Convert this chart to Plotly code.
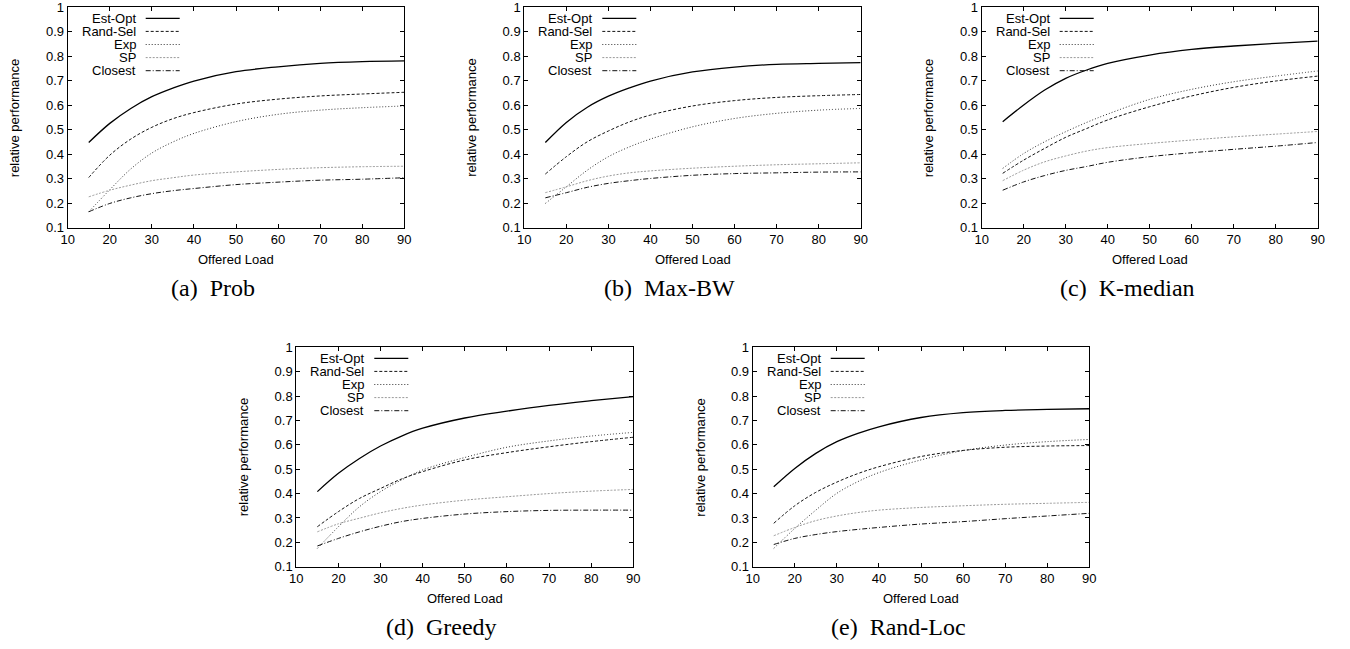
import plotly.graph_objects as go

W, H = 1350, 649

offered_load = [15, 20, 25, 30, 35, 40, 50, 60, 70, 80, 90]
series_names = ["Est-Opt", "Rand-Sel", "Exp", "SP", "Closest"]

# (a) Prob
prob_est_opt = [0.448, 0.526, 0.587, 0.635, 0.670, 0.699, 0.737, 0.757, 0.771, 0.778, 0.781]
prob_rand_sel = [0.305, 0.396, 0.462, 0.510, 0.545, 0.570, 0.605, 0.625, 0.638, 0.646, 0.653]
prob_exp = [0.165, 0.255, 0.340, 0.405, 0.450, 0.485, 0.533, 0.563, 0.580, 0.590, 0.597]
prob_sp = [0.226, 0.253, 0.274, 0.292, 0.304, 0.315, 0.328, 0.338, 0.345, 0.349, 0.351]
prob_closest = [0.165, 0.199, 0.222, 0.239, 0.251, 0.260, 0.276, 0.286, 0.294, 0.298, 0.304]

# (b) Max-BW
maxbw_est_opt = [0.448, 0.530, 0.592, 0.637, 0.671, 0.699, 0.736, 0.756, 0.767, 0.771, 0.774]
maxbw_rand_sel = [0.319, 0.390, 0.451, 0.495, 0.532, 0.560, 0.597, 0.619, 0.632, 0.639, 0.644]
maxbw_exp = [0.199, 0.267, 0.335, 0.390, 0.430, 0.462, 0.512, 0.546, 0.567, 0.580, 0.587]
maxbw_sp = [0.243, 0.267, 0.292, 0.311, 0.324, 0.332, 0.343, 0.351, 0.357, 0.361, 0.365]
maxbw_closest = [0.222, 0.243, 0.265, 0.281, 0.292, 0.301, 0.314, 0.321, 0.324, 0.327, 0.328]

# (c) K-median
kmed_est_opt = [0.533, 0.601, 0.662, 0.710, 0.744, 0.771, 0.805, 0.828, 0.842, 0.853, 0.862]
kmed_rand_sel = [0.322, 0.376, 0.424, 0.469, 0.505, 0.540, 0.594, 0.638, 0.673, 0.699, 0.719]
kmed_exp = [0.342, 0.403, 0.451, 0.492, 0.530, 0.564, 0.624, 0.665, 0.696, 0.719, 0.740]
kmed_sp = [0.292, 0.335, 0.369, 0.393, 0.413, 0.427, 0.444, 0.458, 0.471, 0.482, 0.493]
kmed_closest = [0.253, 0.287, 0.313, 0.334, 0.350, 0.367, 0.390, 0.406, 0.420, 0.433, 0.448]

# (d) Greedy
greedy_est_opt = [0.408, 0.483, 0.544, 0.595, 0.636, 0.668, 0.710, 0.738, 0.762, 0.781, 0.798]
greedy_rand_sel = [0.264, 0.326, 0.380, 0.421, 0.460, 0.490, 0.538, 0.568, 0.592, 0.613, 0.631]
greedy_exp = [0.175, 0.264, 0.346, 0.408, 0.456, 0.497, 0.548, 0.590, 0.616, 0.636, 0.651]
greedy_sp = [0.243, 0.276, 0.299, 0.321, 0.339, 0.353, 0.373, 0.387, 0.400, 0.410, 0.417]
greedy_closest = [0.185, 0.216, 0.243, 0.266, 0.285, 0.298, 0.316, 0.326, 0.331, 0.332, 0.332]

# (e) Rand-Loc
randloc_est_opt = [0.428, 0.503, 0.565, 0.613, 0.647, 0.674, 0.712, 0.732, 0.741, 0.745, 0.748]
randloc_rand_sel = [0.278, 0.350, 0.405, 0.447, 0.482, 0.510, 0.552, 0.577, 0.590, 0.595, 0.597]
randloc_exp = [0.175, 0.257, 0.332, 0.401, 0.449, 0.486, 0.538, 0.576, 0.599, 0.613, 0.622]
randloc_sp = [0.227, 0.261, 0.289, 0.308, 0.322, 0.332, 0.343, 0.350, 0.356, 0.360, 0.364]
randloc_closest = [0.191, 0.216, 0.232, 0.244, 0.253, 0.261, 0.275, 0.285, 0.297, 0.308, 0.319]

x_ticks = [10, 20, 30, 40, 50, 60, 70, 80, 90]
y_ticks = [0.1, 0.2, 0.3, 0.4, 0.5, 0.6, 0.7, 0.8, 0.9, 1.0]
y_tick_labels = ["0.1", "0.2", "0.3", "0.4", "0.5", "0.6", "0.7", "0.8", "0.9", "1"]

panels = [
    ("(a)\u00a0 Prob", [prob_est_opt, prob_rand_sel, prob_exp, prob_sp, prob_closest]),
    ("(b)\u00a0 Max-BW", [maxbw_est_opt, maxbw_rand_sel, maxbw_exp, maxbw_sp, maxbw_closest]),
    ("(c)\u00a0 K-median", [kmed_est_opt, kmed_rand_sel, kmed_exp, kmed_sp, kmed_closest]),
    ("(d)\u00a0 Greedy", [greedy_est_opt, greedy_rand_sel, greedy_exp, greedy_sp, greedy_closest]),
    ("(e)\u00a0 Rand-Loc", [randloc_est_opt, randloc_rand_sel, randloc_exp, randloc_sp, randloc_closest]),
]

# plot-area boxes in pixels: left, right, top, bottom
boxes = [
    (67.7, 404.3, 7.3, 227.7),
    (524.3, 860.7, 7.3, 227.7),
    (981.7, 1317.7, 7.3, 227.7),
    (296.3, 633.3, 347.3, 566.7),
    (752.7, 1089.3, 347.3, 566.7),
]

styles = [
    dict(color="#000000", width=1.3, dash="solid"),
    dict(color="#111111", width=1.0, dash="3px,2px"),
    dict(color="#333333", width=1.0, dash="1px,2px"),
    dict(color="#999999", width=1.0, dash="2px,1.5px"),
    dict(color="#111111", width=1.0, dash="5px,2px,1px,2px"),
]

FONT = "Liberation Sans"
SERIF = "Liberation Serif"


def px(x):
    return x / W


def py(y):
    return 1 - y / H


fig = go.Figure()
annotations = []
shapes = []

for i, ((caption, values), (L, R, T, B)) in enumerate(zip(panels, boxes)):
    n = "" if i == 0 else str(i + 1)
    xa, ya = "x" + n, "y" + n
    for name, vals, st in zip(series_names, values, styles):
        fig.add_trace(go.Scatter(
            x=offered_load, y=vals, mode="lines", name=name, showlegend=False,
            line=dict(color=st["color"], width=st["width"], dash=st["dash"], shape="spline", smoothing=1.0),
            xaxis=xa, yaxis=ya,
        ))
    axis_common = dict(
        showline=True, linecolor="black", linewidth=1, mirror="allticks",
        ticks="inside", ticklen=4, tickwidth=1, tickcolor="black",
        showgrid=False, zeroline=False, ticklabeloverflow="allow",
        tickfont=dict(family=FONT, size=13, color="black"),
    )
    fig.update_layout(**{
        "xaxis" + n: dict(domain=[px(L), px(R)], range=[10, 90], tickvals=x_ticks,
                          anchor=ya, **axis_common),
        "yaxis" + n: dict(domain=[py(B), py(T)], range=[0.1, 1.0], tickvals=y_ticks,
                          ticktext=y_tick_labels, anchor=xa, **axis_common),
    })
    annotations.append(dict(
        text="Offered Load", x=px((L + R) / 2), y=py(B + 31.5), xref="paper", yref="paper",
        showarrow=False, xanchor="center", yanchor="middle",
        font=dict(family=FONT, size=13, color="black"),
    ))
    annotations.append(dict(
        text="relative performance", x=px(L - 53), y=py((T + B) / 2), xref="paper", yref="paper",
        showarrow=False, xanchor="center", yanchor="middle", textangle=-90,
        font=dict(family=FONT, size=13, color="black"),
    ))
    annotations.append(dict(
        text=caption, x=px(L + 145.5), y=py(B + 60), xref="paper", yref="paper",
        showarrow=False, xanchor="center", yanchor="middle",
        font=dict(family=SERIF, size=24, color="black"),
    ))
    for k, (name, st) in enumerate(zip(series_names, styles)):
        ry = T + 11 + 13.1 * k
        annotations.append(dict(
            text=name, x=px(L + 70), y=py(ry), xref="paper", yref="paper",
            showarrow=False, xanchor="right", yanchor="middle",
            font=dict(family=FONT, size=13, color="black"),
        ))
        shapes.append(dict(
            type="line", xref="paper", yref="paper",
            x0=px(L + 78), x1=px(L + 112), y0=py(ry), y1=py(ry),
            line=dict(color=st["color"], width=st["width"], dash=st["dash"]),
        ))

fig.update_layout(
    width=W, height=H, margin=dict(l=0, r=0, t=0, b=0, autoexpand=False),
    paper_bgcolor="white", plot_bgcolor="white",
    annotations=annotations, shapes=shapes, showlegend=False,
)

fig.write_html(
    "out.html",
    config={"displayModeBar": False},
    post_script="document.body.style.margin='0';document.body.style.overflow='hidden';",
)
